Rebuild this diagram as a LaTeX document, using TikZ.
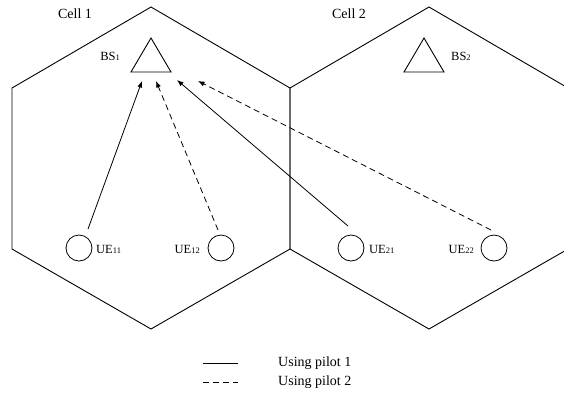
\documentclass[tikz,border=0pt]{standalone}
\usepackage{fontspec}
\setmainfont{Liberation Serif}
\usetikzlibrary{arrows.meta}
\newcommand{\lbl}[2]{#1{\fontsize{8.5}{8.5}\selectfont #2}}
\begin{document}
\begin{tikzpicture}[x=1pt,y=-1pt,
  edge/.style={line width=0.9pt,line join=miter},
  link/.style={line width=0.8pt,-{Latex[length=6.5pt,width=5pt]}},
  dsh/.style={dash pattern=on 6pt off 4pt},
  ue/.style={circle,draw,line width=0.8pt,minimum size=26pt,inner sep=0pt},
  txt/.style={inner sep=0pt,font=\fontsize{14}{14}\selectfont},
  sub/.style={inner sep=0pt,font=\fontsize{12.5}{12.5}\selectfont}]
\useasboundingbox (0,0) rectangle (564,392);
\begin{scope}
\clip (0,0) rectangle (564,392);
% hexagons
\draw[edge] (151,7) -- (290,88) -- (290,249) -- (151,329) -- (12,249) -- (12,88) -- cycle;
\draw[edge] (429,7) -- (568,88) -- (568,249) -- (429,329) -- (290,249) -- (290,88) -- cycle;
\end{scope}
% base stations
\draw[edge] (151,38) -- (171,72) -- (131,72) -- cycle;
\draw[edge] (424,38) -- (444,72) -- (404,72) -- cycle;
\node[sub,anchor=east] (bs1) at (120,56) {\lbl{BS}{1}};
\node[sub,anchor=west] (bs2) at (451,56) {\lbl{BS}{2}};
\node[txt] (c1) at (75,14) {Cell 1};
\node[txt] (c2) at (349,14) {Cell 2};
% users
\node[ue] (u11) at (79,248) {};
\node[ue] (u12) at (221,248) {};
\node[ue] (u21) at (351,248) {};
\node[ue] (u22) at (494,248) {};
\node[sub,anchor=west] (l11) at (96,249) {\lbl{UE}{11}};
\node[sub,anchor=east] (l12) at (200,249) {\lbl{UE}{12}};
\node[sub,anchor=west] (l21) at (369,249) {\lbl{UE}{21}};
\node[sub,anchor=east] (l22) at (474,249) {\lbl{UE}{22}};
% link endpoints
\coordinate (s11) at (88,229);
\coordinate (s12) at (218,230);
\coordinate (s21) at (348,226);
\coordinate (s22) at (491,230);
\coordinate (t11) at (142,81);
\coordinate (t12) at (156,81);
\coordinate (t21) at (177,80);
\coordinate (t22) at (198,81);
\draw[link] (s11) -- (t11);
\draw[link,dsh] (s12) -- (t12);
\draw[link] (s21) -- (t21);
\draw[link,dsh] (s22) -- (t22);
% legend
\coordinate (a1) at (203,363);
\coordinate (b1) at (238,363);
\coordinate (a2) at (203,382);
\coordinate (b2) at (238,382);
\draw[line width=0.8pt] (a1) -- (b1);
\draw[line width=0.8pt,dsh] (a2) -- (b2);
\node[txt,anchor=west] (g1) at (278,363) {Using pilot 1};
\node[txt,anchor=west] (g2) at (278,382) {Using pilot 2};
\end{tikzpicture}
\end{document}
